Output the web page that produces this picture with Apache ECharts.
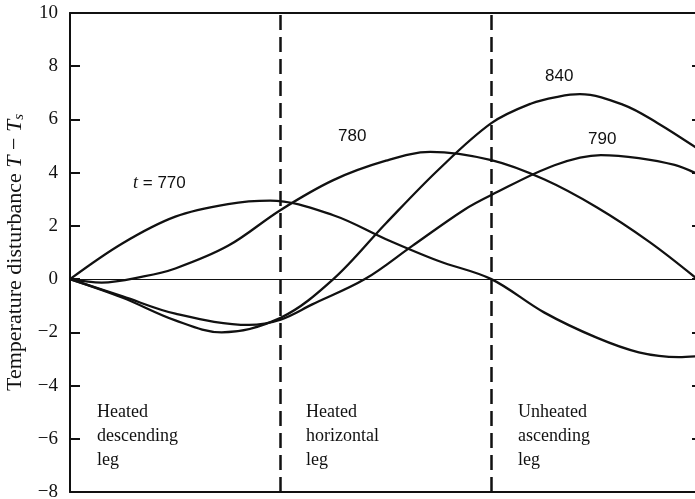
<!DOCTYPE html>
<html>
<head>
<meta charset="utf-8">
<script src="https://cdn.jsdelivr.net/npm/echarts@6/dist/echarts.min.js"></script>
<style>html,body{margin:0;padding:0;background:#fff;}#c{width:695px;height:499px;}</style>
</head>
<body>
<div id="c"></div>
<script>
// positions along the loop (0-1 heated descending, 1-2 heated horizontal, 2-3 unheated ascending)
const x770 = [0, 0.25, 0.5, 0.75, 0.95, 1.25, 1.5, 1.75, 2, 2.25, 2.5, 2.7, 2.89, 2.97];
const y770 = [0, 1.35, 2.35, 2.82, 2.95, 2.4, 1.5, 0.68, 0, -1.25, -2.2, -2.75, -2.93, -2.9];
const x780 = [0, 0.15, 0.35, 0.5, 0.75, 1, 1.25, 1.5, 1.71, 2, 2.25, 2.5, 2.75, 2.97];
const y780 = [0, -0.13, 0.1, 0.4, 1.25, 2.6, 3.72, 4.45, 4.78, 4.47, 3.75, 2.7, 1.4, 0.05];
const x790 = [0, 0.25, 0.5, 0.85, 1, 1.15, 1.4, 1.625, 1.87, 2, 2.3, 2.52, 2.7, 2.87, 2.97];
const y790 = [0, -0.65, -1.3, -1.72, -1.52, -0.95, 0, 1.25, 2.6, 3.16, 4.28, 4.66, 4.55, 4.29, 3.98];
const x840 = [0, 0.25, 0.5, 0.72, 1, 1.25, 1.5, 1.75, 2, 2.19, 2.32, 2.42, 2.63, 2.79, 2.97];
const y840 = [0, -0.7, -1.55, -2.0, -1.45, 0, 2.1, 4.12, 5.86, 6.6, 6.86, 6.95, 6.54, 5.86, 4.95];
const yTicks = [-8, -6, -4, -2, 0, 2, 4, 6, 8, 10];
const legBounds = [1, 2];
const legNames = ['Heated\ndescending\nleg', 'Heated\nhorizontal\nleg', 'Unheated\nascending\nleg'];
const curveNames = ['t = 770', '780', '790', '840'];

const pair = (xs, ys) => xs.map((x, i) => [x, ys[i]]);
const lineStyle = {color: '#111', width: 2.3};
function mkSeries(name, xs, ys, extra) {
  return Object.assign({
    name, type: 'line', data: pair(xs, ys), smooth: 0.35, symbol: 'none',
    lineStyle, silent: true, animation: false
  }, extra || {});
}

const chart = echarts.init(document.getElementById('c'), null, {renderer: 'canvas'});
const serif = '"Liberation Serif","DejaVu Serif",serif';
const sans = '"Liberation Sans","DejaVu Sans",sans-serif';
chart.setOption({
  animation: false,
  backgroundColor: '#fff',
  grid: {left: 70, top: 13, width: 632, height: 479, containLabel: false, outerBoundsMode: 'none'},
  xAxis: [
    {type: 'value', min: 0, max: 3, position: 'bottom',
     axisLine: {show: true, onZero: false, lineStyle: {color: '#111', width: 2}},
     axisTick: {show: false}, axisLabel: {show: false}, splitLine: {show: false}},
    {type: 'value', min: 0, max: 3, position: 'top',
     axisLine: {show: true, onZero: false, lineStyle: {color: '#111', width: 2}},
     axisTick: {show: false}, axisLabel: {show: false}, splitLine: {show: false}}
  ],
  yAxis: [
    {type: 'value', min: yTicks[0], max: yTicks[yTicks.length - 1], interval: 2, position: 'left',
     axisLine: {show: true, onZero: false, lineStyle: {color: '#111', width: 2}},
     axisTick: {show: true, inside: true, length: 10, lineStyle: {color: '#111', width: 2}},
     axisLabel: {color: '#111', fontFamily: serif, fontSize: 19, margin: 12,
                 formatter: v => (v < 0 ? '\u2212' + Math.abs(v) : String(v))},
     splitLine: {show: false},
     name: '{n|Temperature disturbance }{i|T}{n| \u2212 }{i|T}{s|s}',
     nameLocation: 'middle', nameGap: 42, nameRotate: 90,
     nameTextStyle: {
       rich: {
         n: {fontFamily: serif, fontSize: 22, color: '#111'},
         i: {fontFamily: serif, fontSize: 22, fontStyle: 'italic', color: '#111'},
         s: {fontFamily: serif, fontSize: 15, fontStyle: 'italic', color: '#111', verticalAlign: 'bottom', padding: [9, 0, 0, 0]}
       }
     }},
    {type: 'value', min: yTicks[0], max: yTicks[yTicks.length - 1], interval: 2, position: 'right',
     axisLine: {show: false, onZero: false},
     axisTick: {show: true, inside: true, length: 10, lineStyle: {color: '#111', width: 2}},
     axisLabel: {show: false}, splitLine: {show: false}}
  ],
  series: [
    mkSeries('770', x770, y770, {
      markLine: {
        silent: true, symbol: 'none', label: {show: false},
        data: [
          {yAxis: 0, lineStyle: {color: '#111', width: 1.2, type: 'solid'}},
          ...legBounds.map(b => ({xAxis: b, lineStyle: {color: '#111', width: 2.5, type: [15, 7]}}))
        ]
      }
    }),
    mkSeries('780', x780, y780),
    mkSeries('790', x790, y790),
    mkSeries('840', x840, y840)
  ],
  graphic: [
    {type: 'text', left: 133, top: 174, style: {text: '{i|t}{n| = 770}', rich: {
      i: {fontFamily: serif, fontStyle: 'italic', fontSize: 18, fill: '#111'},
      n: {fontFamily: sans, fontSize: 17, fill: '#111'}}}},
    {type: 'text', left: 338, top: 128, style: {text: curveNames[1], font: '17px ' + sans, fill: '#111'}},
    {type: 'text', left: 588, top: 131, style: {text: curveNames[2], font: '17px ' + sans, fill: '#111'}},
    {type: 'text', left: 545, top: 68, style: {text: curveNames[3], font: '17px ' + sans, fill: '#111'}},
    ...legNames.map((t, i) => ({type: 'text', left: [97, 306, 518][i], top: 400,
      style: {text: t, font: '18px ' + serif, fill: '#111', lineHeight: 24}}))
  ]
});
</script>
</body>
</html>
